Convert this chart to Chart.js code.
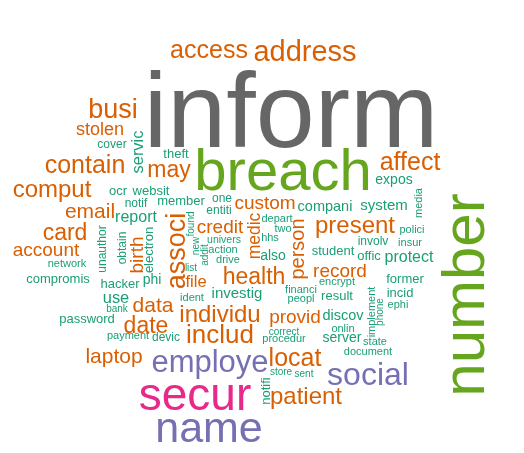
<!DOCTYPE html>
<html>
<head>
<meta charset="utf-8">
<script src="https://cdn.jsdelivr.net/npm/chart.js@4.4.1/dist/chart.umd.min.js"></script>
<style>
  html, body { margin: 0; padding: 0; background: #fff; }
  #wrap { width: 524px; height: 453px; }
</style>
</head>
<body>
<div id="wrap"><canvas id="cloud"></canvas></div>
<script>
// words with their (estimated) frequency, in font px units
const words = [
  'inform', 'breach', 'number', 'secur', 'name', 'social', 'employe', 'address',
  'access', 'busi', 'associ', 'includ', 'locat', 'contain', 'affect', 'comput',
  'present', 'individu', 'patient', 'health', 'card', 'date', 'may', 'email',
  'data', 'laptop', 'person', 'account', 'birth', 'credit', 'custom', 'provid',
  'record', 'stolen', 'medic', 'file', 'servic', 'use', 'report', 'protect',
  'investig', 'system', 'compani', 'discov', 'server', 'expos', 'also', 'phi',
  'student', 'member', 'websit', 'ocr', 'theft', 'hacker', 'password', 'compromis',
  'electron', 'notifi', 'result', 'former', 'incid', 'offic', 'unauthor', 'obtain',
  'notif', 'one', 'entiti', 'cover', 'involv', 'devic', 'network', 'payment',
  'ident', 'univers', 'action', 'drive', 'depart', 'two', 'hhs', 'polici',
  'insur', 'media', 'implement', 'phone', 'ephi', 'encrypt', 'financi', 'peopl',
  'onlin', 'state', 'document', 'procedur', 'correct', 'store', 'sent', 'bank',
  'list', 'found', 'new', 'addit'
]

const freq = [
  106, 58, 60, 46, 43, 32, 31, 29,
  25, 27, 27, 26, 25, 25, 25, 24,
  24, 24, 24, 23, 23, 23, 23, 21,
  21, 21, 20, 19, 19, 19, 19, 19,
  19, 18, 17.5, 16.6, 16.4, 16.4, 16, 16,
  15, 15, 14.5, 14.5, 14, 14, 14, 14,
  13, 13, 13, 13, 13, 13, 13, 13,
  13, 13, 13, 13, 13, 13, 12, 12,
  12, 12, 12, 12, 12, 12, 11, 11,
  11, 10.5, 11, 11, 11, 11, 11, 11,
  11, 11, 11, 10, 11, 11, 11, 11,
  11, 11, 11, 11, 10, 10, 10, 10,
  10, 10, 10, 10
]

// layout coordinates of each word (centre along the text, baseline)
const xPos = [
  291, 283, 484, 195, 209, 368, 210, 305,
  209, 113, 185, 220, 295, 85, 410, 52,
  355, 220, 306, 254, 65, 146, 169, 90,
  153, 114, 304, 46, 143, 220, 265, 295,
  340, 100, 260, 196, 143, 116, 136, 409,
  237, 384, 325, 343, 342, 394, 273, 152,
  333, 181, 151, 118, 176, 120, 87, 58,
  153, 270, 337, 405, 400, 369, 106, 126,
  136, 222, 219, 112, 373, 166, 67, 128,
  192, 224, 223, 228, 277, 283, 270, 412,
  410, 422, 375, 383, 398, 337, 301, 301,
  343, 375, 368, 284, 284, 281, 304, 117,
  191, 194, 199, 208
]

const yPos = [
  147, 190, 295, 410, 442, 385, 372, 61,
  58, 118, 251, 343, 366, 173, 170, 197,
  233, 322, 404, 284, 240, 333, 177, 218,
  312, 363, 249, 256, 255, 233, 209, 323,
  277, 135, 236, 287, 152, 303, 222, 262,
  298, 210, 211, 320, 342, 184, 260, 284,
  255, 205, 195, 195, 158, 288, 323, 283,
  250, 391, 300, 283, 297, 260, 249, 248,
  207, 202, 214, 148, 245, 341, 267, 339,
  301, 243, 253, 263, 222, 232, 241, 233,
  246, 203, 312, 312, 308, 285, 293, 302,
  332, 345, 355, 342, 335, 375, 377, 312,
  271, 224, 246, 255
]

const verticalWords = new Set([
  'number', 'associ', 'person', 'birth', 'medic', 'servic', 'electron', 'notifi',
  'unauthor', 'obtain', 'media', 'implement', 'phone', 'found', 'new', 'addit'
])

// Dark2 colours picked by frequency band
function colorFor(f) {
  if (f >= 80) return '#666666'
  if (f >= 50) return '#66A61E'
  if (f >= 45) return '#E7298A'
  if (f >= 30) return '#7570B3'
  if (f >= 16.5) return '#D95F02'
  return '#1B9E77'
}

const wordPlugin = {
  id: 'wordPlugin',
  afterDatasetsDraw(chart) {
    const ctx = chart.ctx
    const meta = chart.getDatasetMeta(0)
    meta.data.forEach((pt, i) => {
      const w = words[i]
      ctx.save()
      ctx.font = freq[i] + 'px "Liberation Sans", Arial, sans-serif'
      ctx.fillStyle = colorFor(freq[i])
      ctx.textAlign = 'center'
      ctx.textBaseline = 'alphabetic'
      ctx.translate(pt.x, pt.y)
      if (verticalWords.has(w)) ctx.rotate(-Math.PI / 2)
      ctx.fillText(w, 0, 0)
      ctx.restore()
    })
  }
}

const chart = new Chart(document.getElementById('cloud'), {
  type: 'scatter',
  data: {
    datasets: [
      {
        label: 'words',
        data: xPos.map((x, i) => ({ x, y: yPos[i] })),
        pointRadius: 0,
        pointHoverRadius: 0
      }
    ]
  },
  options: {
    responsive: true,
    maintainAspectRatio: false,
    animation: false,
    layout: { padding: 0 },
    plugins: {
      legend: { display: false },
      tooltip: { enabled: false }
    },
    scales: {
      x: { type: 'linear', min: 0, max: 524, display: false },
      y: { type: 'linear', min: 0, max: 453, reverse: true, display: false }
    }
  },
  plugins: [wordPlugin]
})
</script>
</body>
</html>
